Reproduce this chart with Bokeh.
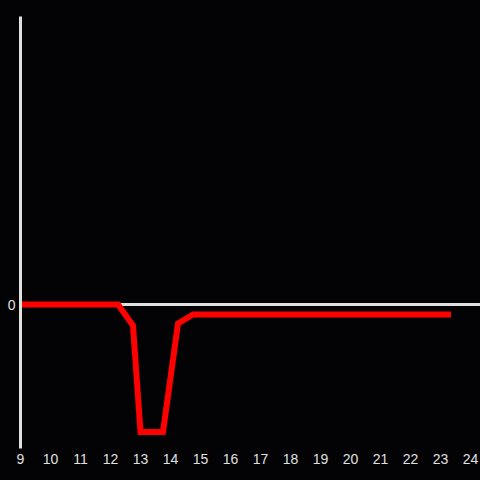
from bokeh.plotting import figure
from bokeh.models import Range1d, FixedTicker, Span, GlobalInlineStyleSheet, ColumnDataSource
from bokeh.embed import file_html
from bokeh.resources import INLINE

# Data (hour of day vs. value)
hours = [9.0, 12.25, 12.75, 13.0, 13.75, 14.25, 14.75, 23.25]
values = [0.0, 0.0, -21.0, -127.5, -127.5, -19.0, -10.0, -10.0]
x_ticks = list(range(9, 25))
y_ticks = [0]

BG = "#030205"
FG = "#e0e0e0"

p = figure(width=480, height=480, output_backend="svg", toolbar_location=None,
           x_range=Range1d(9, 9 + 460 / 30), y_range=Range1d(-144, 288),
           min_border_left=20, min_border_right=0, min_border_top=16, min_border_bottom=32)
p.stylesheets = [GlobalInlineStyleSheet(css="html, body { margin: 0 !important; padding: 0; background: %s; overflow: hidden; }" % BG)]
p.background_fill_color = BG
p.border_fill_color = BG
p.outline_line_color = None
p.xgrid.visible = False
p.ygrid.visible = False

zero = Span(location=0, dimension="width", line_color=FG, line_width=3, level="underlay")
p.add_layout(zero)

src = ColumnDataSource(dict(x=hours, y=values))
p.line("x", "y", source=src, line_color="#ff0000", line_width=6, line_cap="square", line_join="miter")

p.xaxis.ticker = FixedTicker(ticks=x_ticks)
p.xaxis.axis_line_color = None
p.xaxis.major_tick_line_color = None
p.xaxis.minor_tick_line_color = None
p.xaxis.major_tick_out = 0
p.xaxis.major_label_standoff = 5

p.yaxis.ticker = FixedTicker(ticks=y_ticks)
p.yaxis.axis_line_color = FG
p.yaxis.axis_line_width = 3
p.yaxis.major_tick_line_color = None
p.yaxis.minor_tick_line_color = None
p.yaxis.major_tick_out = 0
p.yaxis.major_label_standoff = 5

for ax in (p.xaxis, p.yaxis):
    ax.major_label_text_color = FG
    ax.major_label_text_font = "Liberation Sans"
    ax.major_label_text_font_size = "14px"

open("out.html", "w").write(file_html(p, INLINE))
